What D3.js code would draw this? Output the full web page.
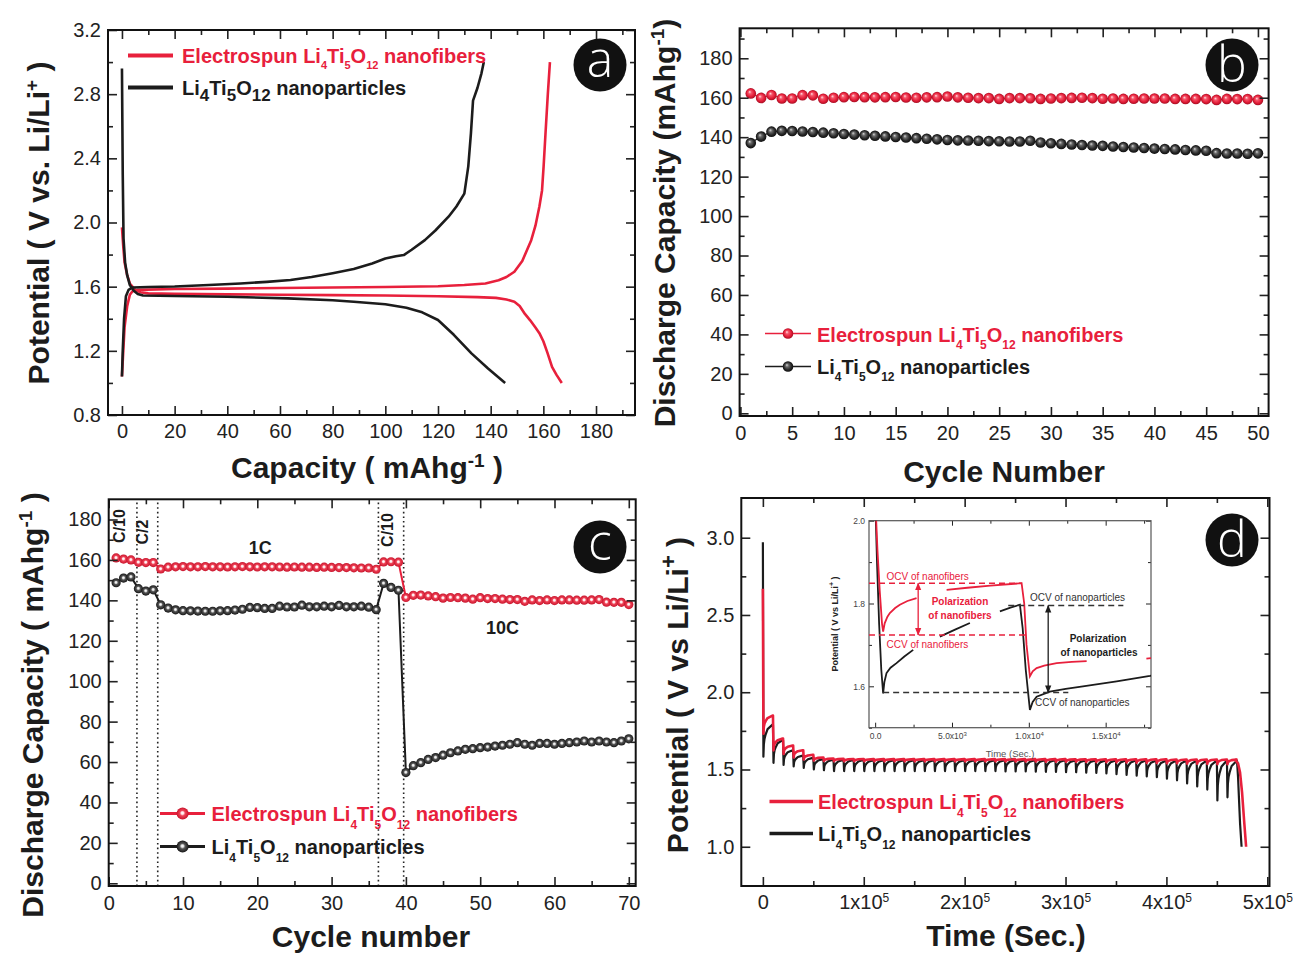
<!DOCTYPE html>
<html><head><meta charset="utf-8">
<script src="https://cdn.jsdelivr.net/npm/d3@7"></script>
<style>body{margin:0;background:#fff}svg{display:block}</style>
</head><body><svg id="fig" width="1293" height="955"></svg>
<script>
// ---------------- DATA ----------------
// Panel a: charge/discharge profiles [capacity mAh/g, potential V]
const aRedDischarge = [[0,1.97],[0.5,1.85],[1,1.75],[2,1.67],[3,1.62],[5,1.58],[7,1.565],[10,1.558],[20,1.555],[40,1.552],[60,1.55],[80,1.547],[100,1.545],[120,1.54],[135,1.535],[142,1.53],[146,1.52],[149,1.506],[151,1.48],[153,1.43],[155,1.39],[157,1.345],[158.5,1.31],[160,1.26],[161.5,1.19],[163.3,1.10],[165,1.05],[167,1.0]];
const aRedCharge = [[0,1.04],[0.5,1.2],[1,1.35],[2,1.48],[3,1.55],[4,1.572],[6,1.58],[20,1.585],[40,1.588],[60,1.592],[80,1.595],[100,1.598],[120,1.603],[130,1.61],[138,1.62],[143,1.64],[146,1.66],[149,1.693],[152,1.76],[155.4,1.89],[157,1.98],[158.5,2.1],[159.5,2.2],[160.1,2.35],[160.8,2.55],[161.7,2.8],[162.5,3.0]];
const aBlackDischarge = [[0,2.96],[0.3,2.3],[0.6,1.9],[1.2,1.75],[2,1.67],[3,1.61],[4.5,1.575],[6,1.555],[8,1.545],[20,1.542],[40,1.537],[63,1.527],[80,1.515],[88,1.506],[100,1.49],[108,1.468],[114,1.44],[120,1.392],[126,1.30],[132.7,1.184],[139,1.09],[145.5,1.0]];
const aBlackCharge = [[0,1.04],[0.3,1.2],[0.8,1.4],[1.5,1.54],[2.5,1.58],[4,1.595],[10,1.598],[20,1.601],[33,1.61],[45,1.62],[55,1.63],[64,1.642],[72,1.66],[80,1.684],[88,1.71],[95,1.745],[100,1.775],[104,1.79],[107,1.797],[110,1.83],[115,1.89],[119,1.95],[124,2.036],[127,2.1],[130,2.18],[131.5,2.35],[132.5,2.556],[133.3,2.76],[135,2.84],[136.5,2.93],[137.4,3.0]];
const aXTicks = [0,20,40,60,80,100,120,140,160,180];
const aYTicks = [0.8,1.2,1.6,2.0,2.4,2.8,3.2];

// Panel b: cycling at constant rate
const bCycles = [1,2,3,4,5,6,7,8,9,10,11,12,13,14,15,16,17,18,19,20,21,22,23,24,25,26,27,28,29,30,31,32,33,34,35,36,37,38,39,40,41,42,43,44,45,46,47,48,49,50];
const bRed = [162.2,159.9,161.4,159.6,159.6,161.3,161.2,159.5,160.0,160.3,160.4,160.3,160.2,160.3,160.4,160.1,160.0,160.2,160.3,160.6,160.2,160.0,159.8,159.8,159.4,159.8,159.8,159.7,159.4,159.6,159.8,159.9,160.0,159.8,159.5,159.6,159.4,159.5,159.6,159.6,159.6,159.4,159.4,159.4,159.3,158.9,159.4,159.3,159.3,158.9];
const bBlack = [137.0,140.3,142.8,143.2,143.1,142.9,142.6,142.3,142.0,141.6,141.3,141.0,140.7,140.4,140.1,139.8,139.5,139.2,138.9,138.6,138.4,138.3,138.2,138.0,137.9,137.8,137.8,138.2,137.3,136.9,136.6,136.3,136.0,135.8,135.6,135.3,135.0,134.8,134.5,134.2,134.0,133.8,133.5,133.3,133.1,131.9,131.7,131.7,131.6,131.8];
const bXTicks = [0,5,10,15,20,25,30,35,40,45,50];
const bYTicks = [0,20,40,60,80,100,120,140,160,180];

// Panel c: rate capability
const cCycles = [1,2,3,4,5,6,7,8,9,10,11,12,13,14,15,16,17,18,19,20,21,22,23,24,25,26,27,28,29,30,31,32,33,34,35,36,37,38,39,40,41,42,43,44,45,46,47,48,49,50,51,52,53,54,55,56,57,58,59,60,61,62,63,64,65,66,67,68,69,70];
const cRed = [161.0,160.4,160.0,158.8,158.7,158.7,
 155.5,156.4,156.6,156.7,156.6,156.6,156.7,156.6,156.6,156.5,156.6,156.7,156.6,156.5,156.6,156.6,156.5,156.4,156.5,156.4,156.4,156.3,156.4,156.3,156.2,156.2,156.1,156.0,156.0,155.4,
 159.0,159.1,158.9,
 141.4,142.5,142.6,142.2,141.8,141.1,141.4,141.3,141.1,140.6,141.3,140.9,140.9,140.6,140.4,140.4,139.5,140.2,139.9,140.2,139.9,140.2,140.2,140.1,140.1,140.2,140.4,139.1,139.0,139.0,137.9];
const cBlack = [148.7,151.0,151.6,145.8,144.6,145.2,
 137.8,136.2,135.3,134.9,134.8,134.7,134.6,134.6,134.8,134.9,135.2,135.6,136.5,136.4,136.0,136.0,137.1,136.7,136.7,137.6,136.8,136.8,137.1,136.8,137.5,136.8,136.8,137.1,136.6,135.4,
 148.4,146.4,145.0,
 54.8,58.2,59.7,61.3,62.2,63.4,64.6,65.5,66.3,66.6,67.1,67.4,67.9,68.3,68.8,69.6,68.8,68.3,69.2,69.2,68.8,69.2,69.6,69.9,70.4,69.9,70.4,69.9,69.6,70.4,71.5];
const cRateBounds = [3.8,6.6,36.3,39.7];
const cRateLabels = ["C/10","C/2","1C","C/10","10C"];
const cXTicks = [0,10,20,30,40,50,60,70];
const cYTicks = [0,20,40,60,80,100,120,140,160,180];

// Panel d: GITT, one pulse every 1e4 s; potential at end of pulse (CCV) and end of rest (OCV)
const dPulseTimes = [0,10000,20000,30000,40000,50000,60000,70000,80000,90000,100000,110000,120000,130000,140000,150000,160000,170000,180000,190000,200000,210000,220000,230000,240000,250000,260000,270000,280000,290000,300000,310000,320000,330000,340000,350000,360000,370000,380000,390000,400000,410000,420000,430000,440000,450000,460000];
const dBlackCCV = [1.583,1.543,1.53,1.52,1.51,1.50,1.495,1.49,1.49,1.49,1.49,1.49,1.49,1.49,1.49,1.49,1.49,1.49,1.49,1.49,1.49,1.49,1.49,1.49,1.488,1.488,1.487,1.486,1.485,1.484,1.483,1.482,1.48,1.478,1.475,1.47,1.465,1.46,1.455,1.45,1.44,1.43,1.41,1.39,1.37,1.30,1.32];
const dBlackOCV = [1.79,1.69,1.625,1.59,1.575,1.567,1.563,1.562,1.561,1.561,1.56,1.56,1.56,1.56,1.56,1.56,1.56,1.56,1.56,1.56,1.56,1.56,1.56,1.56,1.56,1.56,1.56,1.56,1.56,1.56,1.559,1.559,1.559,1.559,1.558,1.558,1.558,1.558,1.557,1.557,1.557,1.557,1.556,1.556,1.556,1.555,1.555];
const dRedCCV = [1.732,1.624,1.60,1.578,1.565,1.558,1.555,1.554,1.553,1.553,1.553,1.553,1.553,1.553,1.553,1.553,1.553,1.553,1.553,1.553,1.553,1.553,1.553,1.553,1.552,1.552,1.552,1.552,1.551,1.551,1.55,1.55,1.549,1.548,1.547,1.546,1.545,1.544,1.543,1.542,1.54,1.54,1.538,1.537,1.536,1.535,1.534];
const dRedOCV = [1.849,1.70,1.655,1.625,1.595,1.578,1.571,1.569,1.568,1.568,1.567,1.567,1.567,1.567,1.567,1.567,1.567,1.567,1.567,1.567,1.567,1.567,1.567,1.567,1.567,1.567,1.567,1.567,1.567,1.567,1.566,1.566,1.566,1.566,1.566,1.566,1.566,1.566,1.566,1.566,1.565,1.565,1.565,1.565,1.565,1.565,1.565];
const dBlackStart = 2.97, dRedStart = 2.67;
const dBlackEnd = [[470000,1.555],[471000,1.45],[473000,1.15],[474500,1.0]];
const dRedEnd = [[468000,1.563],[471000,1.54],[473000,1.48],[475000,1.35],[477000,1.17],[479000,1.0]];
// relaxation shape within one pulse (time after pulse start, fraction recovered)
const dRelaxOffsets = [520,957,1608,2695,4650,9530];
const dRelaxFrac = [0,0.385,0.556,0.692,0.863,1.0];
const dXTicks = [0,100000,200000,300000,400000,500000];
const dYTicks = [1.0,1.5,2.0,2.5,3.0];

// Inset of panel d (time s, potential V), segments broken where labels sit
const insRed = [
 [[0,2.06],[150,1.93],[300,1.83],[450,1.75],[520,1.732],[620,1.752],[800,1.768],[957,1.777],[1300,1.789],[1608,1.797],[2100,1.806],[2695,1.813]],
 [[4650,1.833],[6000,1.838],[7500,1.843],[9530,1.849],[9700,1.80],[9850,1.70],[10070,1.624],[10250,1.636],[10507,1.644],[11000,1.650],[11810,1.656],[12800,1.659],[13763,1.661]],
 [[17650,1.667],[18000,1.668]]];
const insBlack = [
 [[0,2.06],[120,1.9],[260,1.75],[400,1.64],[520,1.583],[600,1.61],[740,1.632],[1000,1.645],[1390,1.656],[1900,1.672],[2475,1.688]],
 [[4212,1.720],[5200,1.737],[6165,1.753]],
 [[8118,1.781],[8800,1.79],[9420,1.797],[9600,1.74],[9800,1.64],[10070,1.543],[10250,1.562],[10507,1.575],[11370,1.587],[12400,1.594],[13520,1.6],[15715,1.612],[17885,1.625],[18000,1.626]]];
const insLevels = {redOCV:1.849, redCCV:1.724, blackOCV:1.795, blackCCV:1.585};
const insXTicks = [0,5000,10000,15000];
const insYTicks = [1.6,1.8,2.0];

// ---------------- DRAWING ----------------
const FONT = "'Liberation Sans', Arial, Helvetica, sans-serif";
const RED = "#e8203c", BLK = "#1c1c1c", AX = "#222";
const svg = d3.select("#fig").attr("font-family", FONT);
svg.append("rect").attr("width",1293).attr("height",955).attr("fill","#fff");
const defs = svg.append("defs");

function radial(id, fx, fy, stops){
  const g = defs.append("radialGradient").attr("id",id).attr("cx","50%").attr("cy","50%").attr("r","50%").attr("fx",fx).attr("fy",fy);
  stops.forEach(([o,c])=>g.append("stop").attr("offset",o).attr("stop-color",c));
}
radial("sRedB","38%","35%",[[0,"#ffe0e4"],[0.3,"#f4566a"],[0.7,"#e41d38"],[1,"#a80f24"]]);
radial("sBlkB","38%","35%",[[0,"#d8d8d8"],[0.3,"#6a6a6a"],[0.7,"#2a2a2a"],[1,"#0e0e0e"]]);
radial("sRedC","48%","45%",[[0,"#ffffff"],[0.22,"#fde4e7"],[0.45,"#ef4357"],[1,"#c8142c"]]);
radial("sBlkC","48%","45%",[[0,"#ffffff"],[0.22,"#dddddd"],[0.45,"#555555"],[1,"#161616"]]);

function styleAxis(sel, fs){
  sel.attr("font-family",null).attr("font-size",null);
  sel.select(".domain").remove();
  sel.selectAll("line").attr("stroke",AX).attr("stroke-width",1.6);
  sel.selectAll("text").attr("fill",AX).attr("font-size",fs).attr("font-family",FONT);
}
function axes(x, y, o){
  const g = svg.append("g");
  const [xl,xr] = x.range(), [yb,yt] = y.range();
  const fs = o.fs || 20, maj = o.maj || 9, mn = o.mn || 5;
  const sw = o.sw || 1.6;
  const none = () => "";
  g.append("g").attr("transform",`translate(0,${yb})`).call(d3.axisBottom(x).tickValues(o.xMaj).tickSize(-maj).tickPadding(o.xPad||9).tickFormat(o.xFmt||(d=>d))).call(s=>styleAxis(s,fs)).attr("class","xlab");
  g.append("g").attr("transform",`translate(0,${yb})`).call(d3.axisBottom(x).tickValues(o.xMin).tickSize(-mn).tickFormat(none)).call(s=>styleAxis(s,fs));
  g.append("g").attr("transform",`translate(0,${yt})`).call(d3.axisTop(x).tickValues(o.xMaj).tickSize(-maj).tickFormat(none)).call(s=>styleAxis(s,fs));
  g.append("g").attr("transform",`translate(0,${yt})`).call(d3.axisTop(x).tickValues(o.xMin).tickSize(-mn).tickFormat(none)).call(s=>styleAxis(s,fs));
  g.append("g").attr("transform",`translate(${xl},0)`).call(d3.axisLeft(y).tickValues(o.yMaj).tickSize(-maj).tickPadding(o.yPad||7).tickFormat(o.yFmt||(d=>d))).call(s=>styleAxis(s,fs));
  g.append("g").attr("transform",`translate(${xl},0)`).call(d3.axisLeft(y).tickValues(o.yMin).tickSize(-mn).tickFormat(none)).call(s=>styleAxis(s,fs));
  g.append("g").attr("transform",`translate(${xr},0)`).call(d3.axisRight(y).tickValues(o.yMaj).tickSize(-maj).tickFormat(none)).call(s=>styleAxis(s,fs));
  g.append("g").attr("transform",`translate(${xr},0)`).call(d3.axisRight(y).tickValues(o.yMin).tickSize(-mn).tickFormat(none)).call(s=>styleAxis(s,fs));
  g.selectAll("line").attr("stroke-width",sw);
  g.append("rect").attr("x",xl).attr("y",yt).attr("width",xr-xl).attr("height",yb-yt).attr("fill","none").attr("stroke",o.frame||"#111").attr("stroke-width",o.fw||2);
  return g;
}
// rich text: parts are strings (normal), {sub:".."} or {sup:".."}
function rich(parent, x, y, parts, o){
  const t = parent.append("text").attr("x",x).attr("y",y).attr("font-size",o.size).attr("font-weight",o.weight||"bold").attr("fill",o.color||BLK).attr("font-family",FONT);
  if(o.anchor) t.attr("text-anchor",o.anchor);
  if(o.rotate) t.attr("transform",`rotate(-90,${x},${y})`);
  let shift = 0;
  parts.forEach(p=>{
    const s = t.append("tspan");
    if(typeof p === "string"){ s.text(p); if(shift){ s.attr("dy",-shift); shift=0; } }
    else if(p.sub!==undefined){ const d=o.subShift; s.text(p.sub).attr("font-size",o.subSize).attr("dy",d-shift); shift=d; }
    else { const d=-o.supShift; s.text(p.sup).attr("font-size",o.supSize).attr("dy",d-shift); shift=d; }
  });
  return t;
}
function badge(cx, cy, letter, dy){
  svg.append("circle").attr("cx",cx).attr("cy",cy).attr("r",26.5).attr("fill","#111");
  svg.append("text").attr("x",cx).attr("y",cy+dy).attr("text-anchor","middle").attr("fill","#fff").attr("font-size",50).attr("font-family","'Open Sans', 'DejaVu Sans', sans-serif").attr("font-weight",300).text(letter);
}
const nfParts = ()=>["Electrospun Li",{sub:"4"},"Ti",{sub:"5"},"O",{sub:"12"}," nanofibers"];
const npParts = ["Li",{sub:"4"},"Ti",{sub:"5"},"O",{sub:"12"}," nanoparticles"];

// ===== Panel a =====
{
  const x = d3.scaleLinear().domain([-5.3,194.8]).range([108,635]);
  const y = d3.scaleLinear().domain([0.8,3.2]).range([415,30]);
  defs.append("clipPath").attr("id","clipA").append("rect").attr("x",108).attr("y",30).attr("width",527).attr("height",385);
  const lineY = d3.line().x(d=>x(d[0])).y(d=>y(d[1])).curve(d3.curveLinear);
  const g = svg.append("g").attr("clip-path","url(#clipA)");
  [aRedDischarge, aRedCharge].forEach(s=>g.append("path").attr("d",lineY(s)).attr("fill","none").attr("stroke",RED).attr("stroke-width",2.6).attr("stroke-linejoin","round"));
  [aBlackDischarge, aBlackCharge].forEach(s=>g.append("path").attr("d",lineY(s)).attr("fill","none").attr("stroke",BLK).attr("stroke-width",2.6).attr("stroke-linejoin","round"));
  axes(x,y,{xMaj:aXTicks, xMin:[10,30,50,70,90,110,130,150,170,190], yMaj:aYTicks, yMin:[1.0,1.4,1.8,2.2,2.6,3.0], yFmt:d3.format(".1f"), xFmt:d3.format("d")});
  svg.append("line").attr("x1",128).attr("x2",173).attr("y1",55.5).attr("y2",55.5).attr("stroke",RED).attr("stroke-width",4);
  rich(svg,182,63,nfParts(),{size:20,subSize:11,subShift:6,color:RED});
  svg.append("line").attr("x1",128).attr("x2",173).attr("y1",87.5).attr("y2",87.5).attr("stroke",BLK).attr("stroke-width",4);
  rich(svg,182,95,npParts,{size:20,subSize:17,subShift:6,color:BLK});
  badge(600,65,"a",12);
  rich(svg,49,223,["Potential ( V vs. Li/Li",{sup:"+"}," )"],{size:30,supSize:19,supShift:11,rotate:true,anchor:"middle"});
  rich(svg,367,478,["Capacity ( mAhg",{sup:"-1"}," )"],{size:30,supSize:19,supShift:11,anchor:"middle"});
}

// ===== Panel b =====
{
  const x = d3.scaleLinear().domain([-0.08,51.03]).range([739.6,1268.6]);
  const y = d3.scaleLinear().domain([-1.37,195.2]).range([416,28.3]);
  const line = d3.line().x((d,i)=>x(bCycles[i])).y(d=>y(d));
  const g = svg.append("g");
  g.append("path").attr("d",line(bBlack)).attr("fill","none").attr("stroke",BLK).attr("stroke-width",1.2);
  g.append("path").attr("d",line(bRed)).attr("fill","none").attr("stroke",RED).attr("stroke-width",1.2);
  g.selectAll(".pb").data(bBlack).join("circle").attr("cx",(d,i)=>x(bCycles[i])).attr("cy",d=>y(d)).attr("r",5.3).attr("fill","url(#sBlkB)");
  g.selectAll(".pr").data(bRed).join("circle").attr("cx",(d,i)=>x(bCycles[i])).attr("cy",d=>y(d)).attr("r",5.3).attr("fill","url(#sRedB)");
  axes(x,y,{xMaj:bXTicks, xMin:[2.5,7.5,12.5,17.5,22.5,27.5,32.5,37.5,42.5,47.5], yMaj:bYTicks, yMin:[10,30,50,70,90,110,130,150,170,190], xPad:10});
  svg.append("line").attr("x1",765).attr("x2",811).attr("y1",333.5).attr("y2",333.5).attr("stroke",RED).attr("stroke-width",1.5);
  svg.append("circle").attr("cx",788).attr("cy",333.5).attr("r",5.3).attr("fill","url(#sRedB)");
  rich(svg,817,341.5,nfParts(),{size:20,subSize:12,subShift:7,color:RED});
  svg.append("line").attr("x1",765).attr("x2",811).attr("y1",366.5).attr("y2",366.5).attr("stroke",BLK).attr("stroke-width",1.5);
  svg.append("circle").attr("cx",788).attr("cy",366.5).attr("r",5.3).attr("fill","url(#sBlkB)");
  rich(svg,817,373.5,npParts,{size:20,subSize:12,subShift:7,color:BLK});
  badge(1232,65,"b",17);
  rich(svg,675,223,["Discharge Capacity (mAhg",{sup:"-1"},")"],{size:30,supSize:19,supShift:11,rotate:true,anchor:"middle"});
  rich(svg,1004,482,["Cycle Number"],{size:30,anchor:"middle"});
}

// ===== Panel c =====
{
  const x = d3.scaleLinear().domain([0,70.93]).range([108.7,635.7]);
  const y = d3.scaleLinear().domain([-1.34,190.0]).range([886,499.3]);
  const g = svg.append("g");
  cRateBounds.forEach(b=>g.append("line").attr("x1",x(b)).attr("x2",x(b)).attr("y1",y.range()[0]).attr("y2",y.range()[1]).attr("stroke",AX).attr("stroke-width",1.6).attr("stroke-dasharray","1.6,3"));
  const line = d3.line().x((d,i)=>x(cCycles[i])).y(d=>y(d));
  g.append("path").attr("d",line(cBlack)).attr("fill","none").attr("stroke",BLK).attr("stroke-width",2);
  g.append("path").attr("d",line(cRed)).attr("fill","none").attr("stroke",RED).attr("stroke-width",2);
  g.selectAll(".pb").data(cBlack).join("circle").attr("cx",(d,i)=>x(cCycles[i])).attr("cy",d=>y(d)).attr("r",4.6).attr("fill","url(#sBlkC)");
  g.selectAll(".pr").data(cRed).join("circle").attr("cx",(d,i)=>x(cCycles[i])).attr("cy",d=>y(d)).attr("r",4.6).attr("fill","url(#sRedC)");
  axes(x,y,{xMaj:cXTicks, xMin:[5,15,25,35,45,55,65], yMaj:cYTicks, yMin:[10,30,50,70,90,110,130,150,170], xPad:10});
  const rl = (t,xx,yy,rot)=>{ const e=svg.append("text").attr("x",xx).attr("y",yy).attr("font-size",rot?16:18).attr("font-weight","bold").attr("fill",BLK).attr("text-anchor","middle").text(t); if(rot) e.attr("transform",`rotate(-90,${xx},${yy})`); };
  rl(cRateLabels[0], x(2.25), 526, true);
  rl(cRateLabels[1], x(5.3), 532, true);
  rl(cRateLabels[2], x(20.4), 554, false);
  rl(cRateLabels[3], x(38.3), 530, true);
  rl(cRateLabels[4], x(53.0), 634, false);
  svg.append("line").attr("x1",160).attr("x2",205).attr("y1",813.5).attr("y2",813.5).attr("stroke",RED).attr("stroke-width",3);
  svg.append("circle").attr("cx",182.6).attr("cy",813.5).attr("r",6).attr("fill","url(#sRedC)");
  rich(svg,211.5,821,nfParts(),{size:20,subSize:12,subShift:8,color:RED});
  svg.append("line").attr("x1",160).attr("x2",205).attr("y1",846.5).attr("y2",846.5).attr("stroke",BLK).attr("stroke-width",3);
  svg.append("circle").attr("cx",182.6).attr("cy",846.5).attr("r",6).attr("fill","url(#sBlkC)");
  rich(svg,211.5,853.5,npParts,{size:20,subSize:12,subShift:8,color:BLK});
  badge(600,547,"c",13);
  rich(svg,43,705,["Discharge Capacity ( mAhg",{sup:"-1"}," )"],{size:30,supSize:19,supShift:11,rotate:true,anchor:"middle"});
  rich(svg,371,947,["Cycle number"],{size:30,anchor:"middle"});
}

// ===== Panel d =====
{
  const x = d3.scaleLinear().domain([-21390,502180]).range([741.3,1269.5]);
  const y = d3.scaleLinear().domain([0.746,3.257]).range([886,498]);
  defs.append("clipPath").attr("id","clipD").append("rect").attr("x",741.3).attr("y",498).attr("width",528.2).attr("height",388);
  function gitt(start, ccv, ocv, end){
    const pts = [[dPulseTimes[0], start]];
    dPulseTimes.forEach((t,i)=>{
      if(i>0) pts.push([t, ocv[i-1]]);
      dRelaxOffsets.forEach((o,k)=>pts.push([t+o, ccv[i]+dRelaxFrac[k]*(ocv[i]-ccv[i])]));
    });
    return pts.concat(end);
  }
  const line = d3.line().x(d=>x(d[0])).y(d=>y(d[1]));
  const g = svg.append("g").attr("clip-path","url(#clipD)");
  g.append("path").attr("d",line(gitt(dBlackStart,dBlackCCV,dBlackOCV,dBlackEnd))).attr("fill","none").attr("stroke",BLK).attr("stroke-width",2.2).attr("stroke-linejoin","round");
  g.append("path").attr("d",line(gitt(dRedStart,dRedCCV,dRedOCV,dRedEnd))).attr("fill","none").attr("stroke",RED).attr("stroke-width",2.6).attr("stroke-linejoin","round");
  const ax = axes(x,y,{xMaj:dXTicks, xMin:[50000,150000,250000,350000,450000], yMaj:dYTicks, yMin:[1.25,1.75,2.25,2.75], yFmt:d3.format(".1f"), xPad:9});
  ax.select(".xlab").selectAll(".tick text").each(function(d){
    const t = d3.select(this); t.text(null);
    if(d===0){ t.text("0"); return; }
    t.append("tspan").text((d/1e5)+"x10");
    t.append("tspan").attr("dy","-0.6em").attr("font-size",12).text("5");
  });
  svg.append("line").attr("x1",769.5).attr("x2",813).attr("y1",801.5).attr("y2",801.5).attr("stroke",RED).attr("stroke-width",3.5);
  rich(svg,818,808.5,nfParts(),{size:20,subSize:12,subShift:8,color:RED});
  svg.append("line").attr("x1",769.5).attr("x2",813).attr("y1",833.5).attr("y2",833.5).attr("stroke",BLK).attr("stroke-width",3.5);
  rich(svg,818,840.5,npParts,{size:20,subSize:12,subShift:8,color:BLK});
  badge(1232,540,"d",17);
  rich(svg,688,695,["Potential ( V vs Li/Li",{sup:"+"}," )"],{size:30,supSize:22,supShift:12,rotate:true,anchor:"middle"});
  rich(svg,1006,946,["Time (Sec.)"],{size:30,anchor:"middle"});

  // ----- inset -----
  const ix = d3.scaleLinear().domain([-400,17950]).range([869,1151]);
  const iy = d3.scaleLinear().domain([1.5,2.0]).range([727.7,520.7]);
  defs.append("clipPath").attr("id","clipI").append("rect").attr("x",869).attr("y",520.7).attr("width",282).attr("height",207);
  svg.append("rect").attr("x",869).attr("y",520.7).attr("width",282).attr("height",207).attr("fill","#fff");
  const ia = axes(ix,iy,{xMaj:insXTicks, xMin:[2500,7500,12500,17500], yMaj:insYTicks, yMin:[1.5,1.7,1.9], fs:8.5, maj:5, mn:3, sw:1, xPad:5, yPad:4, yFmt:d3.format(".1f"), frame:"#555", fw:1.2});
  ia.selectAll("text").attr("fill","#444");
  ia.select(".xlab").selectAll(".tick text").each(function(d){
    const t = d3.select(this); t.text(null);
    if(d===0){ t.text("0.0"); return; }
    const e = Math.floor(Math.log10(d)), m = d/Math.pow(10,e);
    t.append("tspan").text(m.toFixed(1)+"x10");
    t.append("tspan").attr("dy","-0.5em").attr("font-size",6).text(String(e));
  });
  const il = d3.line().x(d=>ix(d[0])).y(d=>iy(d[1]));
  const ic = svg.append("g").attr("clip-path","url(#clipI)");
  insBlack.forEach(s=>ic.append("path").attr("d",il(s)).attr("fill","none").attr("stroke",BLK).attr("stroke-width",1.8));
  insRed.forEach(s=>ic.append("path").attr("d",il(s)).attr("fill","none").attr("stroke",RED).attr("stroke-width",1.8));
  const dash = (t0,t1,v,c)=>ic.append("line").attr("x1",ix(t0)).attr("x2",ix(t1)).attr("y1",iy(v)).attr("y2",iy(v)).attr("stroke",c).attr("stroke-width",1.6).attr("stroke-dasharray","6,4");
  dash(-400,9550,insLevels.redOCV,RED);
  dash(-400,9900,insLevels.redCCV,RED);
  dash(8660,16150,insLevels.blackOCV,"#333");
  dash(520,12570,insLevels.blackCCV,"#333");
  ["R","K"].forEach(k=>{
    const c = k==="R"?RED:BLK;
    defs.append("marker").attr("id","ar"+k).attr("viewBox","0 0 10 10").attr("refX",9).attr("refY",5).attr("markerWidth",6).attr("markerHeight",6).attr("orient","auto-start-reverse")
      .append("path").attr("d","M0,1 L10,5 L0,9 Z").attr("fill",c);
  });
  ic.append("line").attr("x1",ix(2800)).attr("x2",ix(2800)).attr("y1",iy(insLevels.redOCV)).attr("y2",iy(insLevels.redCCV)).attr("stroke",RED).attr("stroke-width",1.3).attr("marker-start","url(#arR)").attr("marker-end","url(#arR)");
  ic.append("line").attr("x1",ix(11260)).attr("x2",ix(11260)).attr("y1",iy(insLevels.blackOCV)).attr("y2",iy(insLevels.blackCCV)).attr("stroke",BLK).attr("stroke-width",1.3).attr("marker-start","url(#arK)").attr("marker-end","url(#arK)");
  const it = (t,xx,yy,c,bold,anchor)=>svg.append("text").attr("x",xx).attr("y",yy).attr("font-size",10).attr("font-weight",bold?"bold":"normal").attr("fill",c).attr("text-anchor",anchor||"start").text(t);
  it("OCV of nanofibers",886.5,580,RED,false);
  it("Polarization",960,605,RED,true,"middle");
  it("of nanofibers",960,619,RED,true,"middle");
  it("CCV of nanofibers",886.5,648,RED,false);
  it("OCV of nanoparticles",1030,601,"#333",false);
  it("Polarization",1098,642,BLK,true,"middle");
  it("of nanoparticles",1099,656,BLK,true,"middle");
  it("CCV of nanoparticles",1035,706,"#333",false);
  rich(svg,838,624,["Potential ( V vs Li/Li",{sup:"+"}," )"],{size:9,supSize:7,supShift:4,rotate:true,anchor:"middle",color:"#222"});
  svg.append("text").attr("x",1010).attr("y",757).attr("text-anchor","middle").attr("font-size",9.5).attr("fill","#555").text("Time (Sec.)");
}
</script></body></html>
